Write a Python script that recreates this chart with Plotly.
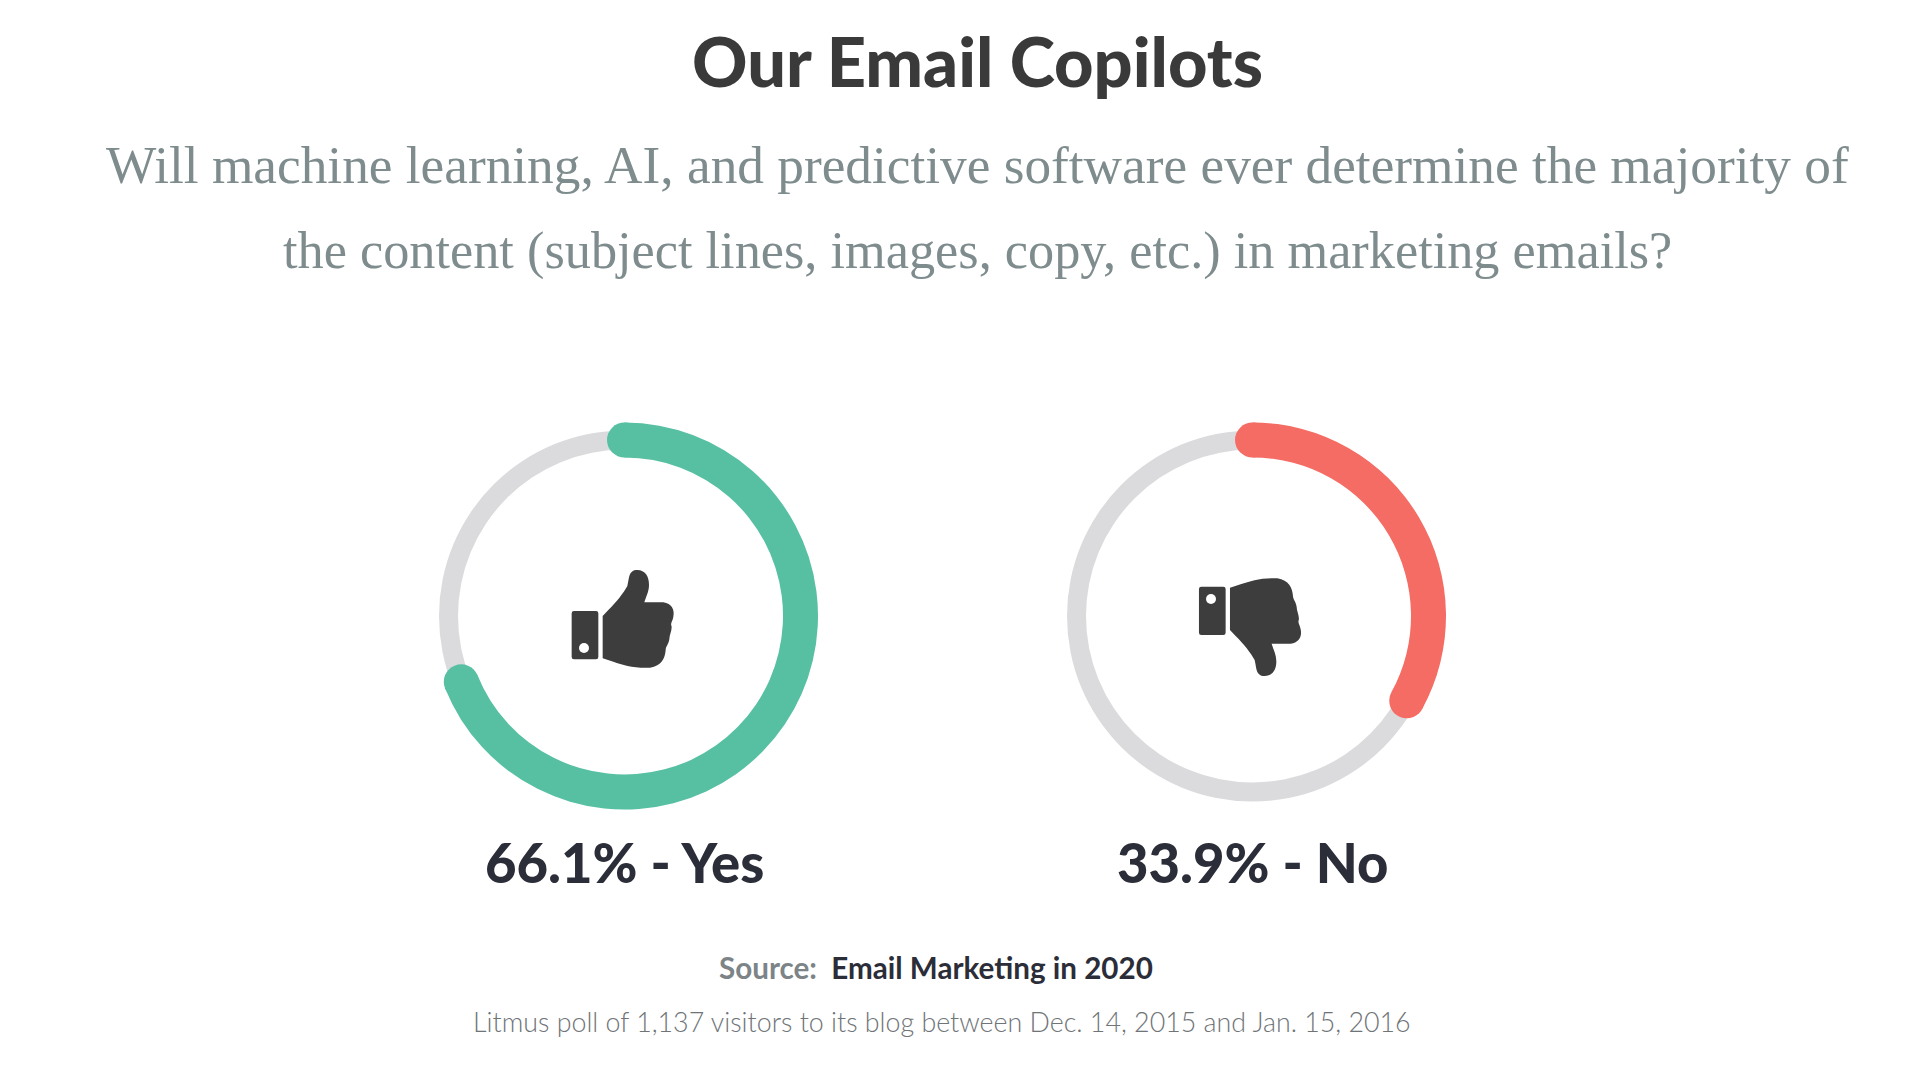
import plotly.graph_objects as go

W = 1920
H = 1080

# what the labels say
labels = ['Yes', 'No']
label_pct = [66.1, 33.9]
# how far the arcs are actually drawn in the picture (percent of the ring)
arc_pct = [68.9, 33.0]
colors = ['#57c0a2', '#f46c64']
track_color = '#dbdbde'

title = 'Our Email Copilots'
sub_lines = ['Will machine learning, AI, and predictive software ever determine the majority of',
             'the content (subject lines, images, copy, etc.) in marketing emails?']
source_name = 'Email Marketing in 2020'
note = 'Litmus poll of 1,137 visitors to its blog between Dec. 14, 2015 and Jan. 15, 2016'

centers = [(624.5, 616), (1252.5, 616)]
R_MAX = 200
R_MID = 176
TRACK_W = 19
ARC_W = 35


def px(x):
    return x / W


def py(y):
    return 1 - y / H


def icon_path(dx, dy, flip):
    # outline traced in crop pixels of the thumb-up icon, crop is 3x
    cuff = [('M', 522, 633), ('L', 588, 633), ('Q', 595, 633, 595, 640), ('L', 595, 771), ('Q', 595, 778, 588, 778),
            ('L', 522, 778), ('Q', 515, 778, 515, 771), ('L', 515, 640), ('Q', 515, 633, 522, 633)]
    hand = [('M', 608, 648), ('L', 625, 630), ('C', 650, 605, 670, 580, 682, 558), ('C', 688, 535, 685, 510, 712, 510),
            ('C', 735, 510, 748, 530, 747, 555), ('C', 747, 575, 738, 590, 733, 607), ('L', 790, 607),
            ('C', 815, 610, 825, 630, 820, 650), ('C', 818, 665, 810, 668, 815, 680), ('C', 815, 695, 808, 705, 808, 718),
            ('C', 805, 735, 798, 738, 797, 750), ('C', 795, 775, 785, 797, 750, 803), ('C', 700, 805, 670, 795, 640, 785),
            ('L', 608, 775)]
    out = ''
    for part in (cuff, hand):
        for seg in part:
            out += seg[0]
            nums = seg[1:]
            pts = []
            for i in range(0, len(nums), 2):
                zy = 1338 - nums[i + 1] if flip else nums[i + 1]
                pts.append('%.5f,%.5f' % (px(dx + nums[i] / 3), py(dy + zy / 3)))
            out += ' '.join(pts) + ' '
        out += 'Z '
    return out


fig = go.Figure()
polars = ['polar', 'polar2']
for i in range(2):
    cx, cy = centers[i]
    deg = arc_pct[i] * 3.6
    # grey track
    fig.add_trace(go.Barpolar(r=[TRACK_W], base=[R_MID - TRACK_W / 2], theta=[180], width=[360],
                              marker=dict(color=track_color, line=dict(width=0)), subplot=polars[i]))
    # coloured arc
    fig.add_trace(go.Barpolar(r=[ARC_W], base=[R_MID - ARC_W / 2], theta=[deg / 2], width=[deg],
                              marker=dict(color=colors[i], line=dict(width=0)), subplot=polars[i]))
    # round ends
    fig.add_trace(go.Scatterpolar(r=[R_MID, R_MID], theta=[0, deg], mode='markers',
                                  marker=dict(size=ARC_W, color=colors[i], line=dict(width=0)), subplot=polars[i]))

polar_common = dict(bgcolor='rgba(0,0,0,0)', barmode='overlay',
                    radialaxis=dict(range=[0, R_MAX], visible=False),
                    angularaxis=dict(visible=False, rotation=90, direction='clockwise'))
fig.update_layout(
    polar=dict(domain=dict(x=[px(centers[0][0] - R_MAX), px(centers[0][0] + R_MAX)],
                           y=[py(centers[0][1] + R_MAX), py(centers[0][1] - R_MAX)]), **polar_common),
    polar2=dict(domain=dict(x=[px(centers[1][0] - R_MAX), px(centers[1][0] + R_MAX)],
                            y=[py(centers[1][1] + R_MAX), py(centers[1][1] - R_MAX)]), **polar_common),
)

# icons
fig.add_shape(type='path', xref='paper', yref='paper', path=icon_path(400, 400, False),
              fillcolor='#3d3d3d', line=dict(width=0))
fig.add_shape(type='path', xref='paper', yref='paper', path=icon_path(1027.3, 400, True),
              fillcolor='#3d3d3d', line=dict(width=0))
fig.add_shape(type='circle', xref='paper', yref='paper', fillcolor='white', line=dict(width=0),
              x0=px(579), x1=px(589), y0=py(653), y1=py(643))
fig.add_shape(type='circle', xref='paper', yref='paper', fillcolor='white', line=dict(width=0),
              x0=px(1206), x1=px(1216), y0=py(604), y1=py(594))


def text(x, y, s, size, color, family='Lato', weight=None):
    fig.add_annotation(x=px(x), y=py(y), xref='paper', yref='paper', text=s, showarrow=False,
                       xanchor='center', yanchor='middle',
                       font=dict(size=size, color=color, family=family, weight=weight))


text(977, 61, title, 68.5, '#3a3a3a', weight=900)
text(977.5, 165, sub_lines[0], 53.3, '#7f8c8d', family='Liberation Serif')
text(977, 250, sub_lines[1], 52.3, '#7f8c8d', family='Liberation Serif')
for i in range(2):
    text(centers[i][0], 862, '%.1f%% - %s' % (label_pct[i], labels[i]), 54.4, '#2b2d38', weight=900)
text(935.5, 967, '<span style="color:#7c8487">Source:</span>  ' + source_name, 29.6, '#2b2d38', weight=700)
text(941.5, 1022, note, 26.8, '#6f7477', weight=300)

fig.update_layout(width=W, height=H, showlegend=False, paper_bgcolor='white', plot_bgcolor='white',
                  margin=dict(l=0, r=0, t=0, b=0))
fig.write_html('out.html', config=dict(displayModeBar=False), post_script="document.body.style.margin='0';")
